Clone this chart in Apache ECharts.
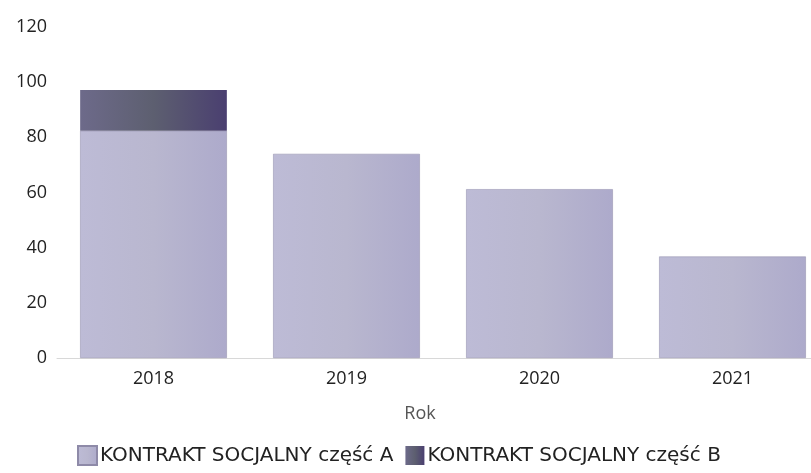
<!DOCTYPE html>
<html><head><meta charset="utf-8">
<script src="https://cdn.jsdelivr.net/npm/echarts@6/dist/echarts.min.js"></script>
<style>html,body{margin:0;padding:0;background:#fff;overflow:hidden;width:811px;height:473px}#c{width:830px;height:473px}</style>
</head><body><div id="c"></div>
<script>
const categories = ['2018', '2019', '2020', '2021'];
const partA = [82.4, 74, 61.2, 36.8];
const partB = [14.8, 0, 0, 0];
const yTicks = [0, 20, 40, 60, 80, 100, 120];
const seriesNames = ['KONTRAKT SOCJALNY część A', 'KONTRAKT SOCJALNY część B'];

const chart = echarts.init(document.getElementById('c'));
const font = 'Open Sans';
chart.setOption({
  backgroundColor: '#ffffff',
  animation: false,
  grid: { left: 57, right: 1, top: 27, bottom: 115, containLabel: false },
  legend: {
    bottom: 2, left: 72,
    itemWidth: 19, itemHeight: 19, itemGap: 12,
    icon: 'rect',
    textStyle: { fontFamily: 'DejaVu Sans', fontSize: 20, color: '#222', padding: [0, 0, 0, -2] },
    data: seriesNames
  },
  xAxis: {
    type: 'category', data: categories,
    name: 'Rok', nameLocation: 'middle', nameGap: 47,
    nameTextStyle: { fontFamily: font, fontSize: 18, color: '#555', padding: [0, 46, 0, 0] },
    axisLine: { show: true, lineStyle: { color: '#d8d8d8', width: 1 } },
    axisTick: { show: false },
    axisLabel: { fontFamily: font, fontSize: 18, color: '#222', margin: 12 }
  },
  yAxis: {
    type: 'value', min: yTicks[0], max: yTicks[yTicks.length - 1], interval: 20,
    axisLine: { show: false }, axisTick: { show: false },
    splitLine: { show: false },
    axisLabel: { fontFamily: font, fontSize: 18, color: '#222', margin: 10 }
  },
  series: [
    {
      name: seriesNames[0], type: 'bar', stack: 'k', data: partA,
      barCategoryGap: '24%',
      itemStyle: {
        color: new echarts.graphic.LinearGradient(0, 0, 1, 0, [
          { offset: 0, color: '#bdbbd6' },
          { offset: 0.5, color: '#b9b7cf' },
          { offset: 1, color: '#adaacb' }
        ]),
        borderColor: '#8e8aa8', borderWidth: 0.5
      }
    },
    {
      name: seriesNames[1], type: 'bar', stack: 'k', data: partB,
      itemStyle: {
        color: new echarts.graphic.LinearGradient(0, 0, 1, 0, [
          { offset: 0, color: '#6d6a8a' },
          { offset: 0.5, color: '#5d5f70' },
          { offset: 1, color: '#4a3f70' }
        ])
      }
    }
  ]
});
</script></body></html>
